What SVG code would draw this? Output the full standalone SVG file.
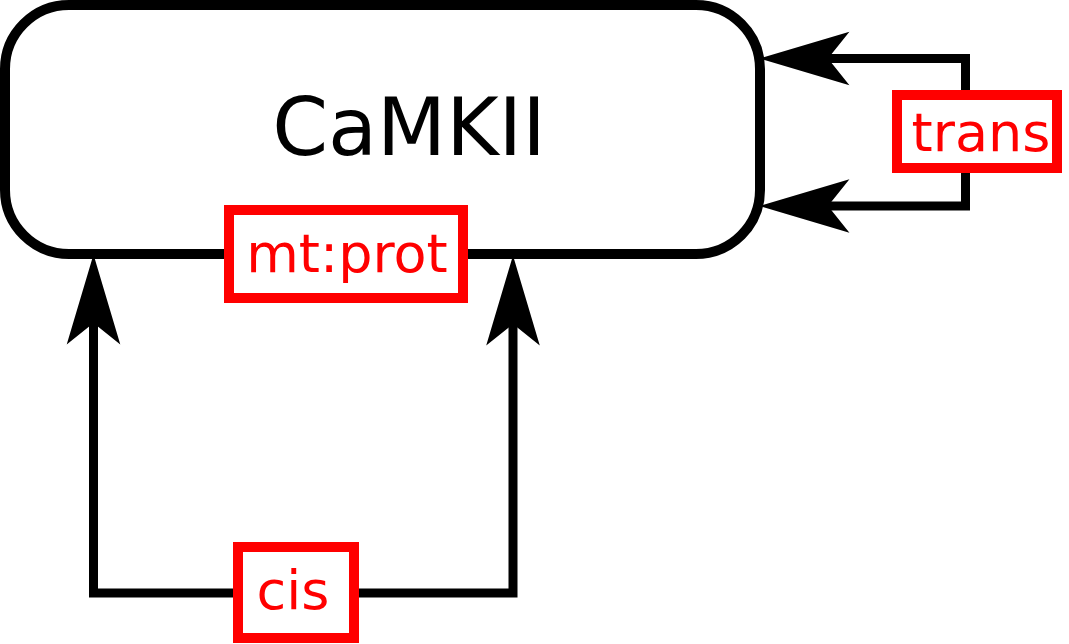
<svg xmlns="http://www.w3.org/2000/svg" width="1069" height="644" viewBox="0 0 1069 644">
  <style>
    .node { fill: #ffffff; stroke: #000000; stroke-width: 10; }
    .label { fill: #ffffff; stroke: #ff0000; stroke-width: 10; }
    .ltext { font-family: "DejaVu Sans", sans-serif; font-size: 54px; fill: #ff0000; text-anchor: middle; }
    .ntext { font-family: "DejaVu Sans", sans-serif; font-size: 80px; fill: #000000; text-anchor: middle; }
    .edge { fill: none; stroke: #000000; stroke-width: 9; stroke-linejoin: miter; stroke-linecap: butt; marker-start: url(#arrow); marker-end: url(#arrow); }
  </style>
  <defs>
    <marker id="arrow" markerUnits="userSpaceOnUse" markerWidth="90" markerHeight="60" viewBox="0 0 84 50" refX="20" refY="25" orient="auto-start-reverse" overflow="visible">
      <path d="M0,0 L84,25 L0,50 L20,25 Z" fill="#000000"/>
    </marker>
  </defs>
  <rect width="1069" height="644" fill="#ffffff"/>
  <g id="connectors">
    <path id="edge-trans" class="edge" d="M828,58.5 H965.5 V206 H828"/>
    <path id="edge-cis" class="edge" d="M93.5,323 V593 H513 V324"/>
  </g>
  <g id="node-camkii">
    <rect class="node" x="5" y="5" width="755" height="249" rx="64" ry="64"/>
    <text class="ntext" x="409" y="155">CaMKII</text>
  </g>
  <g id="label-mtprot">
    <rect class="label" x="229" y="210" width="234" height="88"/>
    <text class="ltext" x="347" y="272">mt:prot</text>
  </g>
  <g id="label-trans">
    <rect class="label" x="897" y="95" width="160" height="73"/>
    <text class="ltext" x="981" y="151">trans</text>
  </g>
  <g id="label-cis">
    <rect class="label" x="238" y="547" width="116" height="91"/>
    <text class="ltext" x="293" y="609">cis</text>
  </g>
</svg>
